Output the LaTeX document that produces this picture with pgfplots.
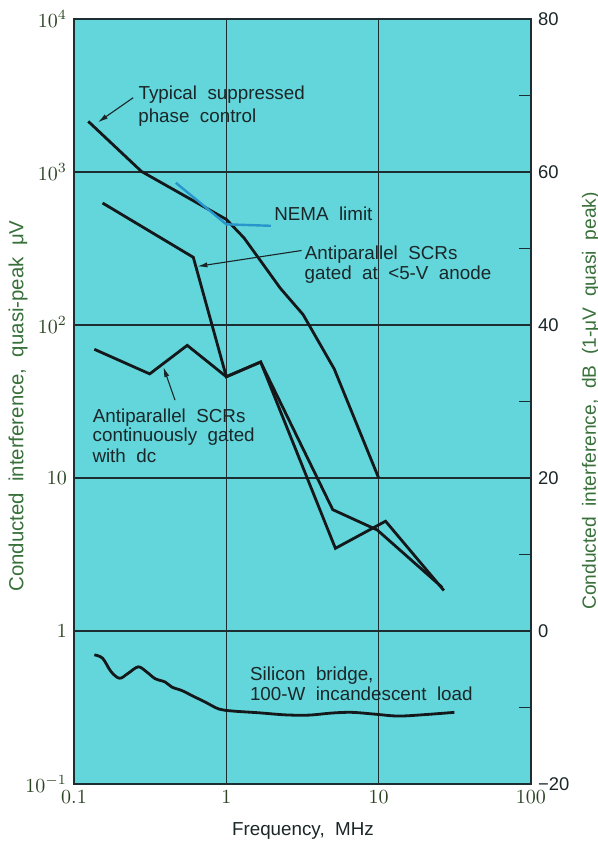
\documentclass[border=0pt]{standalone}
\usepackage{fontspec}
\setmainfont{Liberation Sans}[WordSpace=2]
\usepackage{pgfplots}
\pgfplotsset{compat=1.18}
\usetikzlibrary{arrows.meta}
\definecolor{bg}{RGB}{98,214,219}
\definecolor{gridc}{RGB}{28,46,50}
\definecolor{curve}{RGB}{20,24,26}
\definecolor{tickc}{RGB}{44,68,36}
\definecolor{labc}{RGB}{56,112,58}
\definecolor{nema}{RGB}{40,150,205}
\definecolor{txt}{RGB}{26,38,40}
\newcommand\annot{\fontsize{9.4}{11}\selectfont}
\begin{document}
\begin{tikzpicture}
\begin{axis}[
  at={(0,0)}, anchor=south west,
  scale only axis, width=228.5pt, height=382.5pt,
  xmode=log, ymode=log,
  xmin=0.1, xmax=100, ymin=0.1, ymax=10000,
  xtick={0.1,1,10,100}, xticklabels={$0.1$,$1$,$10$,$100$},
  ytick={0.1,1,10,100,1000,10000},
  yticklabels={$10^{-1}$,$1$,$10$,$10^{2}$,$10^{3}$,$10^{4}$},
  xminorticks=false, yminorticks=false,
  major tick length=0pt,
  grid=major, major grid style={draw=gridc, line width=0.75pt},
  axis line style={draw=gridc, line width=0.85pt},
  axis background/.style={fill=bg},
  ticklabel style={font=\fontsize{9.8}{11}\selectfont, text=tickc},
  xlabel={Frequency,  MHz},
  ylabel={Conducted interference, quasi-peak μV},
  every axis x label/.style={at={(axis description cs:0.501,-0.0667)}, anchor=base,
    font=\fontsize{9.4}{11}\selectfont, text=txt},
  every axis y label/.style={at={(axis description cs:-0.1225,0.494)}, anchor=center, rotate=90,
    font=\fontsize{10.2}{12}\selectfont, text=labc},
]
% Typical suppressed phase control
\addplot[curve, line width=1.4pt] coordinates {
 (0.124,2143) (0.277,1009) (1.0,490) (1.306,371) (1.681,262)
 (2.26,174) (3.19,117) (5.11,51.6) (10,10)};
% NEMA limit
\addplot[nema, line width=1.2pt] coordinates {(0.466,850) (1.0,455) (1.96,445)};
% Antiparallel SCRs gated at <5-V anode
\addplot[curve, line width=1.4pt] coordinates {
 (0.154,627) (0.607,277) (1.0,45.9) (1.68,57.3) (4.996,6.21) (9.8,4.57) (26.1,1.93)};
% Antiparallel SCRs continuously gated with dc
\addplot[curve, line width=1.4pt] coordinates {
 (0.136,69.4) (0.314,47.9) (0.554,73.6) (1.0,45.9) (1.68,57.3)
 (5.20,3.47) (11.1,5.22) (26.8,1.84)};
% Silicon bridge, 100-W incandescent load
\addplot[curve, line width=1.4pt, smooth, tension=0.55] coordinates {
 (0.136,0.698) (0.154,0.664) (0.175,0.543) (0.199,0.491) (0.226,0.528)
 (0.264,0.583) (0.300,0.540) (0.341,0.488) (0.397,0.464) (0.439,0.430)
 (0.511,0.408) (0.596,0.378) (0.731,0.342) (0.895,0.309) (1.096,0.300)
 (1.637,0.292) (2.45,0.283) (3.48,0.282) (4.94,0.291) (6.67,0.294)
 (9.49,0.286) (13.4,0.278) (20.0,0.284) (31.4,0.294)};
\end{axis}
\begin{axis}[
  at={(0,0)}, anchor=south west,
  scale only axis, width=228.5pt, height=382.5pt,
  xmode=log, xmin=0.1, xmax=100, ymin=-20, ymax=80,
  axis x line=none, axis y line*=right,
  ytick={-20,0,20,40,60,80},
  yticklabels={−20,0,20,40,60,80},
  minor ytick={-10,10,30,50,70},
  tick align=inside, major tick length=0pt, minor tick length=6pt,
  minor tick style={draw=gridc, line width=0.85pt},
  axis line style={draw=gridc, line width=0.85pt},
  yticklabel style={font=\fontsize{9.2}{11}\selectfont, text=txt},
  ylabel={Conducted interference, dB (1-μV quasi peak)},
  every axis y label/.style={at={(axis description cs:1.131,0.5007)}, anchor=center, rotate=90,
    font=\fontsize{9.6}{12}\selectfont, text=labc},
]
\end{axis}
\begin{scope}[x=0.5pt, y=-0.5pt, shift={(-37pt,392pt)}]
 \tikzset{lab/.style={anchor=base west, inner sep=0pt, font=\annot, text=txt},
          arr/.style={draw=txt, line width=0.55pt, -{Latex[length=5pt,width=2.6pt]}}}
 \node[lab] at (138.2,99.4) {Typical suppressed};
 \node[lab] at (137.9,122.7) {phase control};
 \draw[arr] (133.2,97.7) -- (97.9,122.3);
 \node[lab] at (273.9,220.9) {NEMA limit};
 \node[lab] at (304.5,259.6) {Antiparallel SCRs};
 \node[lab] at (304.3,279.6) {gated at <5-V anode};
 \draw[arr] (301.6,250.5) -- (197.4,266.4);
 \node[lab] at (92.5,422.2) {Antiparallel SCRs};
 \node[lab] at (92.3,441.2) {continuously gated};
 \node[lab] at (92.1,462.2) {with dc};
 \draw[arr] (175,400.1) -- (163.4,367);
 \node[lab] at (249.8,680.7) {Silicon bridge,};
 \node[lab] at (249.6,700.7) {100-W incandescent load};
\end{scope}
\pgfresetboundingbox
\useasboundingbox (-37pt,-28.5pt) rectangle (262pt,392pt);
\end{tikzpicture}
\end{document}
